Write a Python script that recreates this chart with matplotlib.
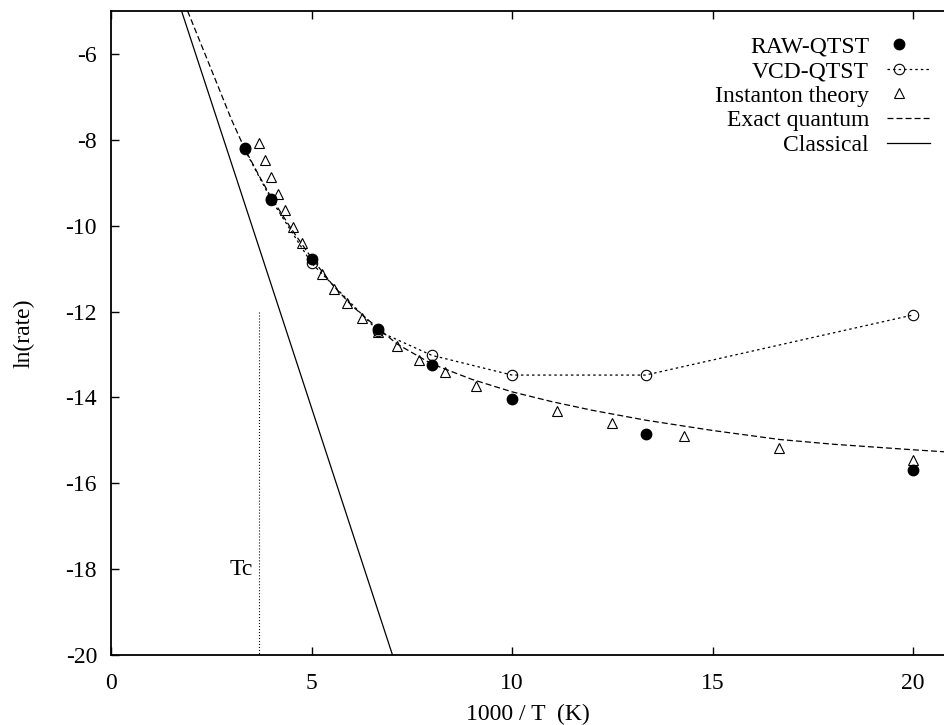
import matplotlib
matplotlib.use("Agg")
import matplotlib.pyplot as plt
from matplotlib.legend_handler import HandlerLine2DCompound

# ---- data ----
raw_x = [3.33, 4.0, 5.0, 6.67, 8.0, 10.0, 13.33, 20.0]
raw_y = [-8.20, -9.37, -10.77, -12.40, -13.24, -14.03, -14.85, -15.70]

vcd_x = [3.33, 4.0, 5.0, 6.67, 8.0, 10.0, 13.33, 20.0]
vcd_y = [-8.22, -9.40, -10.87, -12.46, -13.02, -13.48, -13.48, -12.08]

inst_x = [3.70, 3.85, 4.00, 4.17, 4.35, 4.55, 4.76, 5.26, 5.56, 5.88, 6.25,
          6.67, 7.14, 7.69, 8.33, 9.09, 11.11, 12.50, 14.29, 16.67, 20.00]
inst_y = [-8.08, -8.48, -8.87, -9.27, -9.64, -10.03, -10.40, -11.12, -11.48,
          -11.80, -12.14, -12.48, -12.80, -13.12, -13.42, -13.73, -14.32,
          -14.60, -14.90, -15.17, -15.46]

exact_x = [1.91, 2.5, 3.0, 3.33, 3.7, 4.0, 4.5, 5.0, 5.5, 6.0, 6.67, 7.14,
           8.0, 9.0, 10.0, 11.0, 12.0, 13.33, 15.0, 16.67, 18.0, 20.0, 21.0]
exact_y = [-5.0, -6.36, -7.52, -8.20, -8.85, -9.35, -10.08, -10.75, -11.35,
           -11.86, -12.40, -12.76, -13.22, -13.58, -13.87, -14.10, -14.30,
           -14.53, -14.77, -14.98, -15.09, -15.22, -15.28]

classical_x = [1.76, 7.02]
classical_y = [-5.0, -20.0]

tc_x = [3.68, 3.68]
tc_y = [-12.0, -20.0]

xticks = [0, 5, 10, 15, 20]
yticks = [-20, -18, -16, -14, -12, -10, -8, -6]

labels = ["RAW-QTST", "VCD-QTST", "Instanton theory", "Exact quantum", "Classical"]

# ---- style ----
plt.rcParams['font.family'] = ['Liberation Serif', 'DejaVu Serif']
plt.rcParams['font.size'] = 17
plt.rcParams['axes.unicode_minus'] = False
plt.rcParams['lines.scale_dashes'] = False


class LeftMarkerHandler(HandlerLine2DCompound):
    def get_xdata(self, legend, xdescent, ydescent, width, height, fontsize):
        xdata, _ = super().get_xdata(legend, xdescent, ydescent, width,
                                     height, fontsize)
        return xdata, [-xdescent + 0.28 * width]


W, H = 944, 725
fig = plt.figure(figsize=(W / 100, H / 100), dpi=100)
ax = fig.add_axes([111 / W, 1 - 655 / H, (W - 111) / W, (655 - 11) / H])

ax.plot(raw_x, raw_y, linestyle='none', marker='o', ms=7.5, color='black',
        label=labels[0], zorder=3)
ax.plot(vcd_x, vcd_y, linestyle=(0, (1.8, 2.2)), lw=0.9, marker='o', ms=7.5,
        mfc='none', mec='black', mew=0.8, color='black', label=labels[1], zorder=4)
ax.plot(inst_x, inst_y, linestyle='none', marker='^', ms=7.5, mfc='none',
        mec='black', mew=0.8, label=labels[2], zorder=5)
ax.plot(exact_x, exact_y, linestyle=(0, (4.3, 2.2)), lw=0.9, color='black',
        label=labels[3], zorder=6)
ax.plot(classical_x, classical_y, linestyle='-', lw=0.9, color='black',
        label=labels[4], zorder=7)
ax.plot(tc_x, tc_y, linestyle=(0, (0.75, 1.4)), lw=0.8, color='black', zorder=2)
ax.text(3.53, -18.0, "Tc", ha='right', va='center')

ax.set_xlim(0, (W - 111) / 40.1)
ax.set_ylim(-20, -5)
ax.set_xticks(xticks)
ax.set_yticks(yticks)
ax.tick_params(direction='in', length=6, width=1, top=True, right=False,
               pad=10)
ax.tick_params(axis='x', pad=13)
for s in ['left', 'bottom', 'top']:
    ax.spines[s].set_linewidth(1.3)
ax.spines['right'].set_visible(False)

ax.set_xlabel("1000 / T  (K)", labelpad=7)
ax.set_ylabel("ln(rate)", labelpad=22)

leg = ax.legend(loc='upper right', bbox_to_anchor=(930 / W, 1 - 36 / H),
                bbox_transform=fig.transFigure, markerfirst=False, frameon=False,
                numpoints=1, handlelength=1.82, handletextpad=0.76,
                labelspacing=0.13, borderpad=0, borderaxespad=0,
                handler_map={matplotlib.lines.Line2D: LeftMarkerHandler()})
try:
    for col in leg._legend_box._children[-1]._children:
        col.align = "right"
except Exception:
    pass

fig.savefig("out.png", dpi=100)
